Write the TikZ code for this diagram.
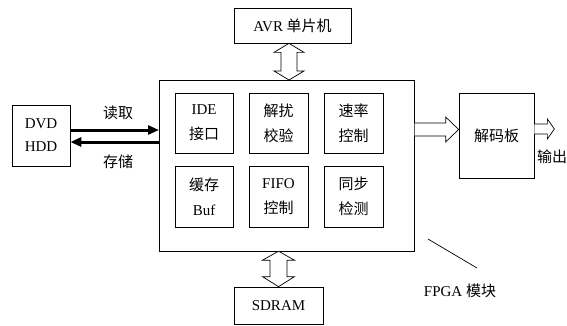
\documentclass[tikz,border=0pt]{standalone}
\usepackage{fontspec}
\setmainfont{Liberation Serif}
\newfontfamily\cjk{Noto Sans CJK SC}
\newcommand{\zh}[1]{{\cjk #1}}
\usetikzlibrary{calc,arrows.meta}
\begin{document}
\begin{tikzpicture}[x=1pt,y=-1pt,
  box/.style={draw,line width=0.7pt,inner sep=0pt,align=center,
    font=\fontsize{15}{25}\selectfont},
  hollow/.style={draw,line width=0.7pt,fill=white,line join=miter},
  thickarrow/.style={line width=3pt,-{Triangle[length=11pt,width=9pt]}},
  lbl/.style={inner sep=0pt,font=\fontsize{15}{18}\selectfont}]
\useasboundingbox (0,0) rectangle (567,325);
% main FPGA box
\node[box,minimum width=255pt,minimum height=170.5pt,anchor=north west] (fpga) at (159,80) {};
% inner blocks
\node[box,minimum width=58pt,minimum height=60pt] (ide) at (204,123) {IDE\\\zh{接口}};
\node[box,minimum width=59pt,minimum height=60pt] (jr) at (278.5,123) {\zh{解扰}\\\zh{校验}};
\node[box,minimum width=59pt,minimum height=60pt] (sl) at (353.5,123) {\zh{速率}\\\zh{控制}};
\node[box,minimum width=58pt,minimum height=61pt] (buf) at (204,196.5) {\zh{缓存}\\Buf};
\node[box,minimum width=59pt,minimum height=61pt] (fifo) at (278.5,196.5) {FIFO\\\zh{控制}};
\node[box,minimum width=59pt,minimum height=61pt] (tb) at (353.5,196.5) {\zh{同步}\\\zh{检测}};
% outer blocks
\node[box,minimum width=117pt,minimum height=35pt] (avr) at (292.5,25.5) {AVR \zh{单片机}};
\node[box,minimum width=89pt,minimum height=37pt] (sdram) at (278.5,305.5) {SDRAM};
\node[box,minimum width=58pt,minimum height=61pt,font=\fontsize{15}{23}\selectfont] (dvd) at (41,135.5) {DVD\\HDD};
\node[box,minimum width=75pt,minimum height=85pt] (dec) at (496.5,135.5) {\zh{解码板}};
% read / store arrows
\coordinate (ry1) at (0,130);
\coordinate (ry2) at (0,142);
\draw[thickarrow] (dvd.east |- ry1) -- (fpga.west |- ry1);
\draw[thickarrow] (fpga.west |- ry2) -- (dvd.east |- ry2);
\node[lbl] (rd) at (118,112.5) {\zh{读取}};
\node[lbl] (st) at (118,161.5) {\zh{存储}};
% AVR <-> FPGA hollow double arrow
\coordinate (u1) at ($(avr.south)+(-3.5,0)$);
\coordinate (u2) at (u1 |- fpga.north);
\draw[hollow] (u1) -- ++(15,9) -- ++(-7,0) -- ($(u2)+(8,-9)$) -- ++(7,0) -- (u2)
  -- ++(-15,-9) -- ++(7,0) -- ($(u1)+(-8,9)$) -- ++(-7,0) -- cycle;
% FPGA <-> SDRAM hollow double arrow
\coordinate (l1) at (sdram.north |- fpga.south);
\coordinate (l2) at (sdram.north);
\draw[hollow] (l1) -- ++(16,9) -- ++(-7.5,0) -- ($(l2)+(8.5,-10)$) -- ++(7.5,0) -- (l2)
  -- ++(-16,-10) -- ++(7.5,0) -- ($(l1)+(-8.5,9)$) -- ++(-7.5,0) -- cycle;
% FPGA -> decoder hollow arrow
\coordinate (ry) at (0,129.5);
\coordinate (r0) at (fpga.east |- ry);
\coordinate (r1) at (dec.west |- ry);
\draw[hollow] ($(r0)+(0,-6.5)$) -- ($(r1)+(-13,-6.5)$) -- ++(0,-6) -- (r1)
  -- ($(r1)+(-13,12.5)$) -- ++(0,-6) -- ($(r0)+(0,6.5)$);
% output arrow
\coordinate (oy) at (0,129);
\coordinate (o0) at (dec.east |- oy);
\coordinate (o1) at ($(o0)+(20,0)$);
\draw[hollow] ($(o0)+(0,-5)$) -- ($(o1)+(-7,-5)$) -- ++(0,-5) -- (o1)
  -- ($(o1)+(-7,10)$) -- ++(0,-5) -- ($(o0)+(0,5)$);
\node[lbl] (out) at (552,157) {\zh{输出}};
% FPGA label with leader
\node[lbl] (fl) at (460,291) {FPGA \zh{模块}};
\coordinate (ld1) at (428,239);
\coordinate (ld2) at (477,268);
\draw[line width=0.7pt] (ld1) -- (ld2);
\end{tikzpicture}
\end{document}
